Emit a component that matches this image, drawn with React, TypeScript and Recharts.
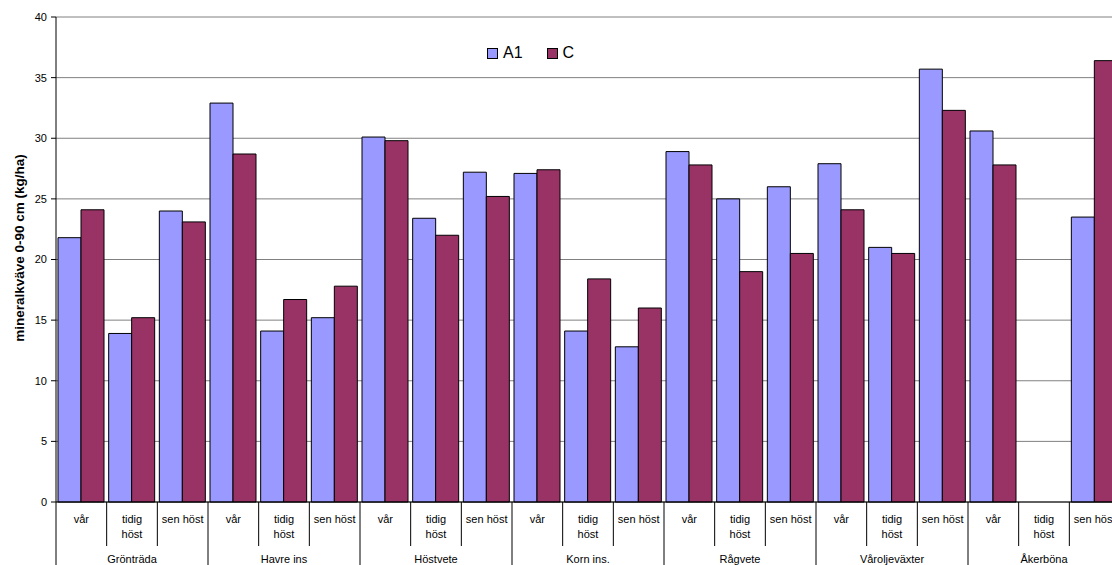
import React from "react";
import { BarChart, Bar, XAxis, YAxis, CartesianGrid } from "recharts";

const groups = ["Grönträda", "Havre ins", "Höstvete", "Korn ins.", "Rågvete", "Våroljeväxter", "Åkerböna"];
const timings = ["vår", "tidig höst", "sen höst"];
const a1Values = [21.8, 13.9, 24.0, 32.9, 14.1, 15.2, 30.1, 23.4, 27.2, 27.1, 14.1, 12.8, 28.9, 25.0, 26.0, 27.9, 21.0, 35.7, 30.6, null, 23.5];
const cValues = [24.1, 15.2, 23.1, 28.7, 16.7, 17.8, 29.8, 22.0, 25.2, 27.4, 18.4, 16.0, 27.8, 19.0, 20.5, 24.1, 20.5, 32.3, 27.8, null, 36.4];
const yTicks = [0, 5, 10, 15, 20, 25, 30, 35, 40];

const data = a1Values.map((v, i) => ({
    key: `${groups[Math.floor(i / 3)]}-${timings[i % 3]}`,
    timing: timings[i % 3],
    group: groups[Math.floor(i / 3)],
    A1: v,
    C: cValues[i],
}));

const CHART_W = 1121;
const CHART_H = 565;
const TOP = 17;
const AXIS_W = 56;
const RIGHT = 1;
const XAXIS_H = 63;
const AXIS_Y = CHART_H - XAXIS_H;
const BAND = (CHART_W - AXIS_W - RIGHT) / data.length;
const FONT = "Arial, 'Liberation Sans', sans-serif";

function CategoryTick(props: any) {
    const { x, index } = props;
    const d = data[index];
    const left = x - BAND / 2;
    const isGroupStart = index % 3 === 0;
    const lines = d.timing === "tidig höst" ? ["tidig", "höst"] : [d.timing];
    return (
        <g>
            <line x1={left} x2={left} y1={AXIS_Y} y2={isGroupStart ? CHART_H : 546} stroke="#000" />
            {index === data.length - 1 && (
                <line x1={left + BAND} x2={left + BAND} y1={AXIS_Y} y2={CHART_H} stroke="#000" />
            )}
            {lines.map((t, k) => (
                <text key={k} x={x} y={AXIS_Y + 21 + k * 15} textAnchor="middle" fontSize={11} fill="#000" fontFamily={FONT}>
                    {t}
                </text>
            ))}
            {index % 3 === 1 && (
                <text x={x} y={AXIS_Y + 61} textAnchor="middle" fontSize={11} fill="#000" fontFamily={FONT}>
                    {d.group}
                </text>
            )}
        </g>
    );
}

function LegendBox() {
    const item = (label: string, color: string) => (
        <span style={{ display: "inline-flex", alignItems: "center", marginRight: 24 }}>
            <span style={{ width: 9, height: 9, background: color, border: "1px solid #000", marginRight: 5 }} />
            <span style={{ fontSize: 16, color: "#000", lineHeight: "16px" }}>{label}</span>
        </span>
    );
    return (
        <div style={{ position: "absolute", left: 487, top: 45, display: "flex", fontFamily: FONT }}>
            {item("A1", "#9999FF")}
            {item("C", "#993366")}
        </div>
    );
}

export default function App() {
    return (
        <div style={{ position: "absolute", left: 0, top: 0, width: 1112, height: 565, overflow: "hidden", background: "#fff", fontFamily: FONT }}>
            <BarChart
                width={CHART_W}
                height={CHART_H}
                data={data}
                margin={{ top: TOP, right: RIGHT, bottom: 0, left: 0 }}
                barCategoryGap={2}
                barGap={0}
            >
                <CartesianGrid vertical={false} stroke="#808080" strokeWidth={1} />
                <XAxis
                    dataKey="key"
                    height={XAXIS_H}
                    interval={0}
                    tickLine={false}
                    axisLine={{ stroke: "#000" }}
                    tick={<CategoryTick />}
                />
                <YAxis
                    width={AXIS_W}
                    domain={[0, 40]}
                    ticks={yTicks}
                    interval={0}
                    tickSize={5}
                    tickMargin={4}
                    axisLine={{ stroke: "#000" }}
                    tickLine={{ stroke: "#000" }}
                    tick={{ fontSize: 11, fill: "#000", fontFamily: FONT }}
                />
                <Bar dataKey="A1" fill="#9999FF" stroke="#000" strokeWidth={1} isAnimationActive={false} />
                <Bar dataKey="C" fill="#993366" stroke="#000" strokeWidth={1} isAnimationActive={false} />
            </BarChart>
            <LegendBox />
            <div
                style={{
                    position: "absolute",
                    left: 19,
                    top: 248,
                    transform: "translate(-50%, -50%) rotate(-90deg)",
                    whiteSpace: "nowrap",
                    fontSize: 13.5,
                    fontWeight: "bold",
                    color: "#000",
                }}
            >
                mineralkväve 0-90 cm (kg/ha)
            </div>
        </div>
    );
}
